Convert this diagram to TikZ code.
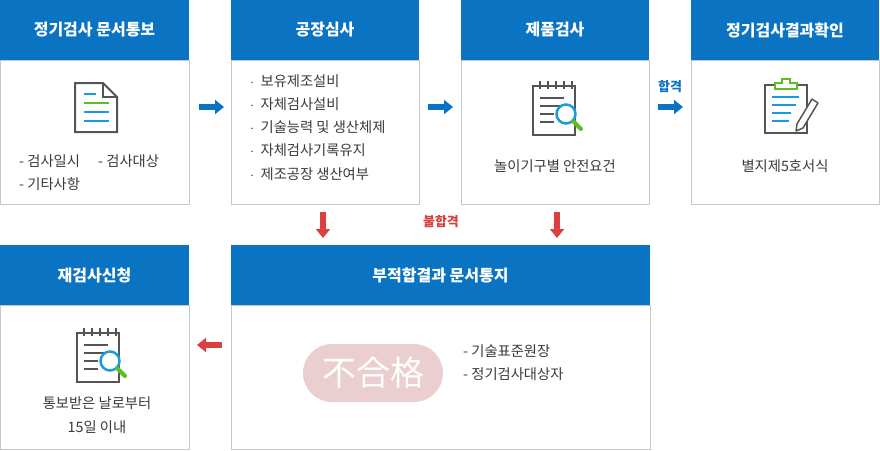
\documentclass[tikz,border=0pt]{standalone}
\usepackage{fontspec}
\setmainfont{Noto Sans CJK KR}
\usetikzlibrary{arrows.meta}
\definecolor{hdr}{HTML}{0B74C2}
\definecolor{bord}{HTML}{C8C8C8}
\definecolor{txt}{HTML}{3A3A3A}
\definecolor{ablue}{HTML}{0B74C2}
\definecolor{ared}{HTML}{D9403F}
\definecolor{ic}{HTML}{555555}
\definecolor{icb}{HTML}{1A9BE0}
\definecolor{icg}{HTML}{5BBE22}
\definecolor{pink}{HTML}{EBCED0}
\tikzset{
 hd/.style={fill=hdr,draw=hdr,text=white,font=\bfseries\fontsize{16}{18}\selectfont,inner sep=0},
 bd/.style={draw=bord,fill=white,line width=0.8pt},
 tx/.style={text=txt,font=\fontsize{14.3}{23.3}\selectfont,align=left,inner sep=0},
 barr/.style={-{Triangle[length=9pt,width=14pt]},line width=6pt,color=ablue},
 rarr/.style={-{Triangle[length=9pt,width=14pt]},line width=6pt,color=ared},
}
\newcommand{\pbox}[6]{% x1 y1 x2 y2 name title
 \draw[bd] (#1,#2+60) rectangle (#3,#4);
 \fill[hdr] (#1,#2) rectangle (#3,#2+60);
 \node[hd] (#5) at ({(#1+#3)/2},#2+30) {#6};
}
\newcommand{\notepad}[2]{% center x,y
 \begin{scope}[shift={(#1,#2)}]
 \draw[ic,line width=2pt,fill=white] (-23,-22) rectangle (19,27);
 \foreach \i in {-16,-8,0,8,16} \draw[ic,line width=1.5pt] (\i,-27)--(\i,-19);
 \draw[ic,line width=1.5pt] (-16,-10)--(8,-10) (-16,-2)--(4,-2) (-16,6)--(-2,6) (-16,14)--(-2,14);
 \draw[icb,line width=2.5pt,fill=white] (10,6) circle (9.5);
 \draw[icg,line width=4pt,line cap=round] (17,13)--(25,21);
 \end{scope}}
\begin{document}
\begin{tikzpicture}[x=1pt,y=-1pt]
\useasboundingbox (0,0) rectangle (880,450);
\pbox{0}{0}{189}{204}{h1}{정기검사 문서통보}
\pbox{231}{0}{419}{204}{h2}{공장심사}
\pbox{461}{0}{649}{204}{h3}{제품검사}
\pbox{691}{0}{879}{204}{h4}{정기검사결과확인}
\pbox{0}{245}{189}{449}{h5}{재검사신청}
\pbox{231}{245}{650}{449}{h6}{부적합결과 문서통지}
% icon 1: document
\draw[ic,line width=2pt,fill=white] (75,83)--(103,83)--(117,97)--(117,132)--(75,132)--cycle;
\draw[ic,line width=2pt] (103,83)--(103,97)--(117,97);
\draw[icb,line width=1.5pt] (84,94)--(96,94) (84,112)--(109,112) (84,121)--(109,121);
\draw[icg,line width=1.5pt] (84,103)--(109,103);
\node[tx,anchor=west] (t1a) at (19,161) {- 검사일시};
\node[tx,anchor=west] (t1b) at (98,161) {- 검사대상};
\node[tx,anchor=west] (t1c) at (19,184) {- 기타사항};
\node[tx,anchor=north west] (t2) at (250,74) {$\cdot$\ \ 보유제조설비\\$\cdot$\ \ 자체검사설비\\$\cdot$\ \ 기술능력 및 생산체제\\$\cdot$\ \ 자체검사기록유지\\$\cdot$\ \ 제조공장 생산여부};
\notepad{556}{108}
\node[tx] (t3) at (555,166) {놀이기구별 안전요건};
% icon 4
\draw[ic,line width=2pt,fill=white] (765,85) rectangle (807,133);
\draw[icg,line width=1.5pt,fill=white] (775,89)--(775,83)--(782,83)--(782,79)--(790,79)--(790,83)--(797,83)--(797,89)--cycle;
\draw[icb,line width=1.5pt] (772,97)--(799,97) (772,105)--(796,105) (772,113)--(791,113) (772,121)--(789,121);
\draw[ic,line width=1.5pt,fill=white,line join=round] (797,124)--(812,99)--(818,103)--(803,128)--(796,131)--cycle;
\node[tx] (t4) at (785,166) {별지제5호서식};
\notepad{100}{355}
\node[tx,align=center] (t5) at (97,415) {통보받은 날로부터\\15일 이내};
\node[fill=pink,rounded corners=29pt,minimum width=140pt,minimum height=58pt,text=white,font=\fontsize{34}{36}\selectfont] (ng) at (373,373) {不合格};
\node[tx,anchor=north west] (t6) at (463,344) {- 기술표준원장\\- 정기검사대상자};
% arrows
\coordinate (a1s) at (199,107); \coordinate (a1e) at (224,107);
\draw[barr] (a1s)--(a1e);
\coordinate (a2s) at (428,107); \coordinate (a2e) at (453,107);
\draw[barr] (a2s)--(a2e);
\coordinate (a3s) at (658,107); \coordinate (a3e) at (683,107);
\draw[barr] (a3s)--(a3e);
\node[text=ablue,font=\bfseries\fontsize{13}{15}\selectfont] (pass) at (670,87) {합격};
\coordinate (d1s) at (323,212); \coordinate (d1e) at (323,238);
\draw[rarr] (d1s)--(d1e);
\coordinate (d2s) at (557,212); \coordinate (d2e) at (557,238);
\draw[rarr] (d2s)--(d2e);
\node[text=ared,font=\bfseries\fontsize{13}{15}\selectfont] (fail) at (441,222) {불합격};
\coordinate (l1s) at (222,345); \coordinate (l1e) at (197,345);
\draw[rarr] (l1s)--(l1e);
\end{tikzpicture}
\end{document}
